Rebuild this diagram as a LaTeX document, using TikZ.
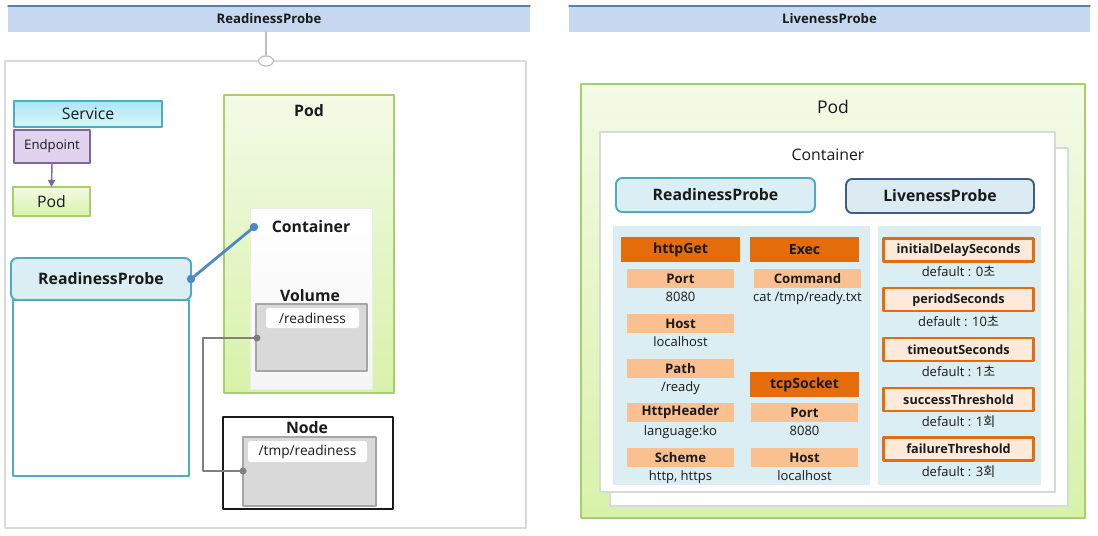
\documentclass[tikz,border=0pt]{standalone}
\usepackage{fontspec}
\setmainfont{Open Sans}
\newfontfamily\kr{Noto Sans CJK KR}
\newcommand\krs[1]{{\kr #1}}
\usetikzlibrary{arrows.meta, positioning, fit, shapes.geometric}
\definecolor{ink}{HTML}{1A1A1A}
\definecolor{bannerfill}{HTML}{C6D9F1}
\definecolor{bannerline}{HTML}{5A7FAF}
\definecolor{frameg}{HTML}{D9D9D9}
\definecolor{knobg}{HTML}{BFBFBF}
\definecolor{svctop}{HTML}{ACE6F6}
\definecolor{svcbot}{HTML}{DDF5FB}
\definecolor{probeline}{HTML}{4BACC6}
\definecolor{probefill}{HTML}{DAEEF3}
\definecolor{lavender}{HTML}{E0D3EE}
\definecolor{violet}{HTML}{8064A2}
\definecolor{podtop}{HTML}{F3FAE6}
\definecolor{podbot}{HTML}{D8F2AA}
\definecolor{podline}{HTML}{A9CF6B}
\definecolor{wire}{HTML}{4F88C6}
\definecolor{volgray}{HTML}{D9D9D9}
\definecolor{volline}{HTML}{A6A6A6}
\definecolor{pipe}{HTML}{7F7F7F}
\definecolor{lvline}{HTML}{3B5E8C}
\definecolor{lvfill}{HTML}{DCEAF2}
\definecolor{burnt}{HTML}{E46C0A}
\definecolor{apricot}{HTML}{FAC090}
\definecolor{peach}{HTML}{FDEADA}
\tikzset{el/.style={line cap=round, line join=round},
  px/.style={x=0.02cm, y=-0.02cm},
  area/.style={inner sep=0pt, outer sep=0pt, text=ink},
  txt/.style={inner sep=0pt, text=ink, font=\fontsize{#1}{#1}\selectfont},
  btxt/.style={inner sep=0pt, text=ink, font=\fontsize{#1}{#1}\selectfont\bfseries},
  banner/.style={area, fill=bannerfill},
  frame/.style={area, draw=frameg, line width=1pt, fill=white},
  knob/.style={ellipse, draw=knobg, line width=0.7pt, fill=white, minimum width=0.3cm, minimum height=0.2cm, inner sep=0pt},
  svcbox/.style={area, draw=probeline, line width=0.8pt, top color=svctop, bottom color=svcbot},
  epbox/.style={area, draw=violet, line width=0.8pt, fill=lavender},
  minipod/.style={area, draw=podline, line width=0.8pt, top color=podtop, bottom color=podbot},
  probebox/.style={area, draw=probeline, line width=1.1pt, fill=probefill, rounded corners=3.5pt},
  probecol/.style={area, draw=probeline, line width=1.1pt, fill=white},
  bigpod/.style={area, draw=podline, line width=0.8pt, top color=podtop, bottom color=podbot},
  cont/.style={area, top color=white, bottom color=black!4, draw=black!8, line width=0.5pt},
  vol/.style={area, fill=volgray, draw=volline, line width=0.6pt},
  dirtag/.style={area, fill=white, rounded corners=1.5pt},
  nodebox/.style={area, draw=ink, line width=1pt, fill=white},
  sheet/.style={area, fill=white, draw=frameg, line width=0.8pt},
  tray/.style={area, fill=probefill},
  hdr/.style={area, fill=burnt, minimum height=0.5cm, font=\fontsize{8}{9}\selectfont\bfseries},
  field/.style={area, fill=apricot, minimum width=2.14cm, minimum height=0.38cm, font=\fontsize{7.5}{9}\selectfont\bfseries},
  optbox/.style={area, fill=peach, draw=burnt, line width=1.2pt, minimum width=3.0cm, minimum height=0.46cm, font=\fontsize{7.2}{8}\selectfont\bfseries},
  valtxt/.style={inner sep=0.5pt, text=ink, font=\fontsize{7.4}{8}\selectfont}}

\begin{document}
\begin{tikzpicture}[el, px]
  \useasboundingbox (0,0) rectangle (1098,535);
  % ReadinessProbe side
  \node[banner, fit={(8,6) (530,32)}, label={[btxt=7.5]center:ReadinessProbe}] (lbanner) {};
  \draw[bannerline, line width=0.8pt] (lbanner.north west) -- (lbanner.north east);
  \node[frame, fit={(5,61) (526,528)}] (lframe) {};
  \node[knob] (lknob) at (266,61) {};
  \draw[knobg, line width=0.6pt] (lknob.north) -- (lknob.north |- lbanner.south);

  \node[svcbox, fit={(14,101) (162,127)}, label={[txt=9]center:Service}] (svc) {};
  \node[epbox, fit={(14,130) (90,163)}, label={[txt=7.5]center:Endpoint}] (ep) {};
  \node[minipod, fit={(13,187) (90,216)}, label={[txt=9]center:Pod}] (spod) {};
  \draw[violet, line width=0.8pt, -{Triangle[length=4pt, width=4pt]}] (ep.south) -- (spod.north);

  \node[probecol, fit={(13,300) (189,476)}] (lcol) {};
  \node[probebox, fit={(11,258) (191,300)}, label={[btxt=9]center:ReadinessProbe}] (lrp) {};

  \node[bigpod, fit={(224,95) (394,393)}] (lpod) {};
  \node[btxt=9] (lpodt) at (309,111) {Pod};
  \node[cont, fit={(250,208) (372,389)}] (lcont) {};
  \node[btxt=9] (lcontt) at (311,227) {Container};
  \coordinate (cdot) at (254,227);
  \node[btxt=9] (lvolt) at (310,296) {Volume};
  \node[vol, fit={(256,304) (367,371)}] (lvol) {};
  \node[dirtag, fit={(266,308) (359,328)}, label={[txt=7.8]center:/readiness}] (lvolp) {};

  \node[nodebox, fit={(223,417) (393,509)}] (lnode) {};
  \node[btxt=9] (lnodet) at (307,428) {Node};
  \node[vol, fit={(243,437) (376,506)}] (lnvol) {};
  \node[dirtag, fit={(248,441) (367,462)}, label={[txt=7.8]center:/tmp/readiness}] (lnvolp) {};

  \coordinate (vdot) at (257,338);
  \coordinate (ndot) at (243,471);
  \draw[pipe, line width=1.6pt] (vdot) -- ++(-54,0) |- (ndot);
  \fill[pipe] (vdot) circle (2pt) (ndot) circle (2pt);

  \draw[wire, line width=1.6pt] (lrp.east) -- (cdot);
  \fill[wire] (lrp.east) circle (2.4pt) (cdot) circle (2.4pt);

  % LivenessProbe side
  \node[banner, fit={(569,6) (1090,32)}, label={[btxt=7.5]center:LivenessProbe}] (rbanner) {};
  \draw[bannerline, line width=0.8pt] (rbanner.north west) -- (rbanner.north east);
  \node[bigpod, fit={(581,84) (1085,518)}] (rpod) {};
  \node[txt=10] (rpodt) at (833,107) {Pod};
  \node[sheet, fit={(610,148) (1068,506)}] (rback) {};
  \node[sheet, fit={(600,132) (1055,492)}] (rcont) {};
  \node[txt=9] (rcontt) at (828,155) {Container};
  \node[probebox, fit={(616,178) (815,212)}, label={[btxt=9]center:ReadinessProbe}] (rrp) {};
  \node[probebox, draw=lvline, fill=lvfill, fit={(846,179) (1034,213)}, label={[btxt=9]center:LivenessProbe}] (rlp) {};
  \node[tray, fit={(613,226) (870,485)}] (htray) {};
  \node[tray, fit={(878,226) (1041,485)}] (ttray) {};

  \node[hdr, minimum width=2.38cm] (hget) at (680.5,249.5) {httpGet};
  \node[hdr, minimum width=2.18cm] (hexec) at (804.5,249.5) {Exec};
  \node[hdr, minimum width=2.18cm] (htcp) at (804.5,384.5) {tcpSocket};
  \foreach \key/\val/\x/\y [count=\i] in {Port/8080/680.5/278.5, Host/localhost/680.5/323.5,
      Path/{/ready}/680.5/368.5, HttpHeader/language:ko/680.5/412.5, Scheme/{http, https}/680.5/457.5,
      Command/{cat /tmp/ready.txt}/807.5/278.5, Port/8080/804.5/412.5, Host/localhost/804.5/457.5}{
    \node[field] (fld\i) at (\x,\y) {\key};
    \node[valtxt, below=1.5pt of fld\i] (val\i) {\val};}

  \foreach \key/\val [count=\i] in {initialDelaySeconds/{0\krs{초}}, periodSeconds/{10\krs{초}},
      timeoutSeconds/{1\krs{초}}, successThreshold/{1\krs{회}}, failureThreshold/{3\krs{회}}}{
    \node[optbox] (opt\i) at (958.5,{250+49.75*(\i-1)}) {\key};
    \node[valtxt, below=2pt of opt\i] (def\i) {default : \val};}
\end{tikzpicture}
\end{document}
